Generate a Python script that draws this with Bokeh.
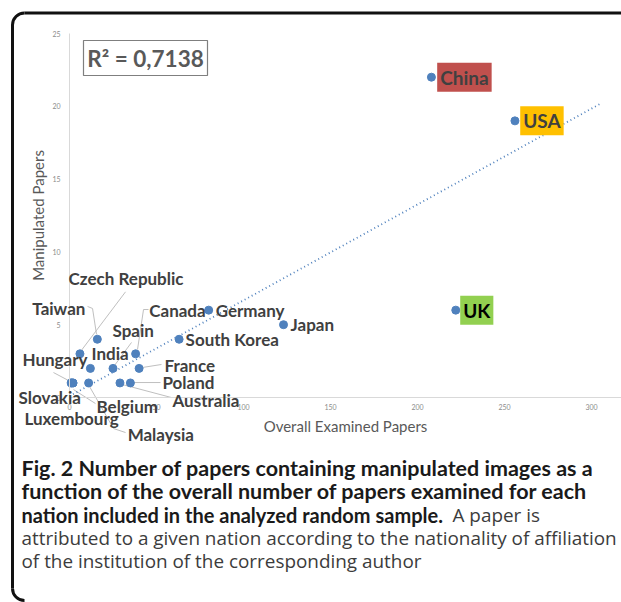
import math
from bokeh.plotting import figure
from bokeh.models import Label, BoxAnnotation, Range1d, FixedTicker
from bokeh.embed import file_html
from bokeh.resources import INLINE

# ---------------- data ----------------
countries = ["China", "USA", "UK", "Japan", "Germany", "South Korea", "Canada",
             "Taiwan", "Czech Republic", "Spain", "France", "India", "Australia",
             "Poland", "Malaysia", "Slovakia", "Luxembourg", "Hungary", "Belgium"]
examined = [208, 256, 222, 123, 80, 63, 38, 16, 6, 25, 40, 12, 29, 35, 11, 1, 1, 2, 2]
manipulated = [22, 19, 6, 5, 6, 4, 3, 4, 3, 2, 2, 2, 1, 1, 1, 1, 1, 1, 1]

x_ticks = [0, 50, 100, 150, 200, 250, 300]
y_ticks = [0, 5, 10, 15, 20, 25]

trend_x = [2, 305]
trend_y = [0.22, 20.17]
r_squared = "R\u00b2 = 0,7138"

caption_bold = ["Fig. 2 Number of papers containing manipulated images as a",
                "function of the overall number of papers examined for each",
                "nation included in the analyzed random sample."]
caption_tail = "A paper is"
caption_rest = ["attributed to a given nation according to the nationality of affiliation",
                "of the institution of the corresponding author"]

# ---------------- label layout (pixel offsets from each point) ----------------
label_dx = [33, 27, 21, 7, 7, 6.5, 70, -65, -11.4, -0.5, 25.4, 1.1, 52.5, 32, 39, -52.7, -46.7, -50.5, 23.5]
label_dy = [0, 0, 0, 0, 0, 0, 43.3, 30.8, 75.3, 37.9, 2.9, 14.9, -17.6, 0.4, -51.6, -14.6, -35.6, 23.4, -23.6]
label_align = ["center", "center", "center", "left", "left", "left", "right", "left", "left", "left",
               "left", "left", "left", "left", "left", "left", "left", "left", "left"]
label_bg = {"China": "#c0504d", "USA": "#ffc000", "UK": "#92d050"}
leaders = {
    "Czech Republic": [(45.6, 62), (1.5, 3.5)],
    "Taiwan": [(-9.8, 32.8), (-4.8, 30.8), (-0.8, 4.8)],
    "Canada": [(12.9, 44.3), (7.9, 44.3), (1.9, 4.3)],
    "Spain": [(18.5, 25.9), (1.5, 2.9)],
    "Hungary": [(-19.5, 10.4), (-2.5, 1.4)],
    "France": [(22.4, 3.9), (3.4, 0.9)],
    "Poland": [(30.1, 0.4), (3.1, 0.4)],
    "Australia": [(51.5, -14.6), (2.5, -1.6)],
    "Belgium": [(0.5, -6.6), (22.5, -20.6)],
    "Malaysia": [(0.9, -3.6), (24.9, -45.6), (36.9, -49.6)],
}

# ---------------- geometry ----------------
W, H = 621, 602
ORIGIN_X, ORIGIN_Y = 69, 397      # canvas position of data (0, 0)
px_x = 1.74                        # pixels per examined paper
px_y = 14.56                       # pixels per manipulated paper
x_start = -ORIGIN_X / px_x
x_end = x_start + W / px_x
y_start = -(H - ORIGIN_Y) / px_y
y_end = y_start + H / px_y


def cx(v):
    return x_start + v / px_x


def cy(v):
    return y_end - v / px_y


p = figure(width=W, height=H, output_backend="svg", toolbar_location=None, title=None,
           x_range=Range1d(x_start, x_end), y_range=Range1d(y_start, y_end), min_border=0)
p.outline_line_color = None
p.grid.visible = False
p.background_fill_color = "white"
p.border_fill_color = "white"

for ax, ticks in ((p.xaxis, x_ticks), (p.yaxis, y_ticks)):
    ax.ticker = FixedTicker(ticks=ticks)
    ax.fixed_location = 0
    ax.axis_line_color = "#d9d9d9"
    ax.major_tick_line_color = None
    ax.minor_tick_line_color = None
    ax.major_tick_out = 0
    ax.major_tick_in = 0
    ax.major_label_text_font = "Lato"
    ax.major_label_text_font_size = "7px"
    ax.major_label_text_color = "#8c8c8c"
    ax.axis_label_text_font = "Lato"
    ax.axis_label_text_font_size = "15px"
    ax.axis_label_text_font_style = "normal"
    ax.axis_label_text_color = "#595959"
p.xaxis.bounds = (0, x_end)
p.yaxis.bounds = (0, 25)
p.xaxis.axis_label = "Overall Examined Papers"
p.yaxis.axis_label = "Manipulated Papers"
p.xaxis.major_label_standoff = 6
p.yaxis.major_label_standoff = 9
p.xaxis.axis_label_standoff = 4
p.yaxis.axis_label_standoff = 2

# outer rounded frame (left and top edges, corners)
p.segment(x0=[cx(12), cx(24)], y0=[cy(24.5), cy(12.5)], x1=[cx(12), cx(W + 20)], y1=[cy(588), cy(12.5)],
          line_color="#111111", line_width=3)
p.arc(x=[cx(24), cx(24)], y=[cy(24.5), cy(588)], radius=12, radius_units="screen",
      start_angle=[math.pi / 2, math.pi], end_angle=[math.pi, 1.5 * math.pi],
      line_color="#111111", line_width=3)

# leader lines
lx, ly = [], []
for name, pts in leaders.items():
    i = countries.index(name)
    lx.append([examined[i] + dx / px_x for dx, dy in pts])
    ly.append([manipulated[i] + dy / px_y for dx, dy in pts])
p.multi_line(lx, ly, line_color="#bfbfbf", line_width=1)

# trendline
p.line(trend_x, trend_y, line_color="#4f81bd", line_width=1.8, line_dash="1 3")

# points
p.scatter(examined, manipulated, size=8, fill_color="#4f81bd", line_color="#4f81bd")

# data labels
for i, name in enumerate(countries):
    if name in label_bg:
        kw = dict(background_fill_color=label_bg[name], padding=3, text_font_size="19px",
                  text_color="black" if name == "UK" else "#404040")
    else:
        kw = dict(text_font_size="17px", text_color="#404040")
    p.add_layout(Label(x=examined[i], y=manipulated[i], x_offset=label_dx[i], y_offset=label_dy[i],
                       text=name, text_align=label_align[i], text_baseline="middle",
                       text_font="Lato", text_font_style="bold", **kw))

# R^2 box
p.add_layout(BoxAnnotation(left=83, right=207, top=40, bottom=75, left_units="canvas",
                           right_units="canvas", top_units="canvas", bottom_units="canvas",
                           fill_color="white", fill_alpha=1, line_color="#7f7f7f", line_alpha=1,
                           line_width=1.2))
p.add_layout(Label(x=145, y=57.5, x_units="canvas", y_units="canvas", text=r_squared,
                   text_align="center", text_baseline="middle", text_font="Lato",
                   text_font_style="bold", text_font_size="22.5px", text_color="#595959"))

# caption
cap_x = 21
cap_y = [467, 490.5, 514, 537, 560]
cap_bold_size = ["21.5px", "21.5px", "20px"]
for k, t in enumerate(caption_bold):
    p.add_layout(Label(x=cap_x, y=cap_y[k], x_units="canvas", y_units="canvas", text=t,
                       text_baseline="middle", text_font="Lato", text_font_style="bold",
                       text_font_size=cap_bold_size[k], text_color="#1a1a1a"))
p.add_layout(Label(x=452, y=cap_y[2], x_units="canvas", y_units="canvas", text=caption_tail,
                   text_baseline="middle", text_font="Open Sans",
                   text_font_size="18.9px", text_color="#3c3c3c"))
for k, t in enumerate(caption_rest):
    p.add_layout(Label(x=cap_x, y=cap_y[3 + k], x_units="canvas", y_units="canvas", text=t,
                       text_baseline="middle", text_font="Open Sans",
                       text_font_size="18.9px", text_color="#3c3c3c"))

open("out.html", "w").write(file_html(p, INLINE))
